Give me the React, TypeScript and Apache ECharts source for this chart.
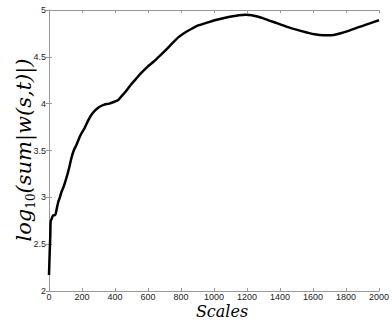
import React, { useEffect, useRef } from "react";
import * as echarts from "echarts";

const scales = [0, 4, 8, 10, 16, 26, 36, 46, 56, 66, 76, 90, 106, 120, 136, 150, 166, 190, 216, 240, 265, 300, 335, 365, 395, 420, 435, 465, 495, 525, 555, 595, 635, 665, 695, 745, 785, 825, 865, 904, 950, 1004, 1050, 1104, 1150, 1193, 1230, 1263, 1300, 1330, 1380, 1443, 1500, 1563, 1610, 1663, 1710, 1762, 1820, 1882, 1940, 2000];
const values = [2.17, 2.4, 2.6, 2.74, 2.77, 2.81, 2.81, 2.87, 2.95, 3.0, 3.06, 3.12, 3.21, 3.3, 3.42, 3.5, 3.56, 3.66, 3.74, 3.83, 3.9, 3.96, 3.99, 4.0, 4.02, 4.04, 4.07, 4.13, 4.2, 4.26, 4.32, 4.39, 4.45, 4.5, 4.55, 4.64, 4.71, 4.76, 4.8, 4.835, 4.86, 4.89, 4.91, 4.93, 4.945, 4.95, 4.945, 4.93, 4.91, 4.89, 4.86, 4.82, 4.79, 4.76, 4.74, 4.73, 4.73, 4.75, 4.78, 4.82, 4.855, 4.89];

const xTicks = [0, 200, 400, 600, 800, 1000, 1200, 1400, 1600, 1800, 2000];
const yTicks = [2, 2.5, 3, 3.5, 4, 4.5, 5];

const AXIS_COLOR = "#999999";

export default function App() {
  const ref = useRef<HTMLDivElement>(null);
  useEffect(() => {
    const chart = echarts.init(ref.current!, undefined, { renderer: "svg" });
    const data = scales.map((s, i) => [s, values[i]]);
    const tickLabel = {
      fontFamily: "Liberation Sans",
      fontSize: 9,
      color: "#222",
    };
    const axisCommon = {
      axisLine: { show: true, lineStyle: { color: AXIS_COLOR, width: 1 } },
      axisTick: { show: true, inside: true, length: 3, lineStyle: { color: AXIS_COLOR } },
      splitLine: { show: false },
    };
    chart.setOption({
      animation: false,
      grid: { left: 49, right: 9, top: 10, bottom: 29, containLabel: false },
      xAxis: [
        {
          type: "value",
          min: xTicks[0],
          max: xTicks[xTicks.length - 1],
          interval: 200,
          ...axisCommon,
          axisLabel: { ...tickLabel, margin: 1, lineHeight: 10, formatter: (v: number) => String(v) },
        },
        {
          type: "value",
          position: "top",
          min: xTicks[0],
          max: xTicks[xTicks.length - 1],
          interval: 200,
          ...axisCommon,
          axisLabel: { show: false },
        },
      ],
      yAxis: [
        {
          type: "value",
          min: yTicks[0],
          max: yTicks[yTicks.length - 1],
          interval: 0.5,
          ...axisCommon,
          axisLabel: { ...tickLabel, margin: 3, formatter: (v: number) => String(v) },
        },
        {
          type: "value",
          position: "right",
          min: yTicks[0],
          max: yTicks[yTicks.length - 1],
          interval: 0.5,
          ...axisCommon,
          axisLabel: { show: false },
        },
      ],
      series: [
        {
          type: "line",
          data,
          showSymbol: false,
          smooth: 0.3,
          lineStyle: { color: "#000", width: 2.5 },
          z: 3,
        },
      ],
      graphic: [
        {
          type: "text",
          x: 222,
          y: 311,
          style: {
            text: "Scales",
            fontFamily: "DejaVu Serif",
            fontStyle: "italic",
            fontSize: 16,
            lineHeight: 14,
            fill: "#000",
            align: "center",
            verticalAlign: "middle",
          },
        },
        {
          type: "text",
          x: 24,
          y: 150,
          rotation: Math.PI / 2,
          style: {
            text: "{a|log}{b|10}{a|(sum|w(s,t)|)}",
            align: "center",
            verticalAlign: "middle",
            fill: "#000",
            rich: {
              a: { fontFamily: "DejaVu Serif", fontStyle: "italic", fontSize: 21, lineHeight: 26, verticalAlign: "middle" },
              b: { fontFamily: "DejaVu Serif", fontSize: 12, lineHeight: 26, verticalAlign: "bottom", padding: [10, 0, 0, 0] },
            },
          },
        },
      ],
    });
    return () => chart.dispose();
  }, []);
  return (
    <div
      ref={ref}
      style={{ position: "fixed", left: 0, top: 0, width: 392, height: 320, background: "#fff" }}
    />
  );
}
